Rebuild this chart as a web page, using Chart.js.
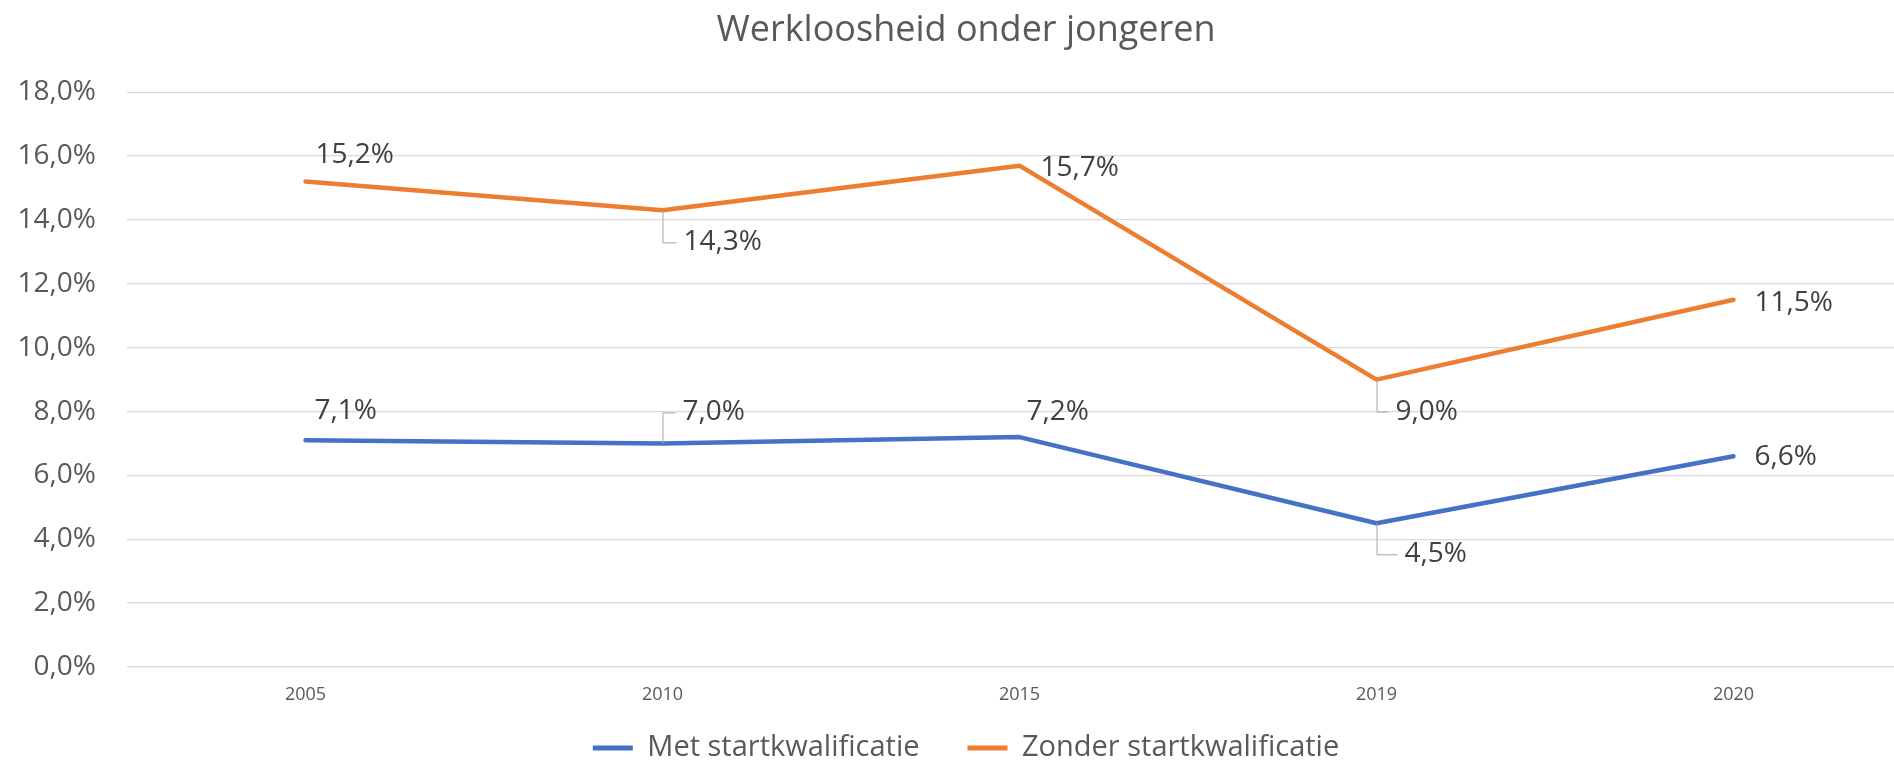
<!DOCTYPE html>
<html>
<head>
<meta charset="utf-8">
<script src="https://cdn.jsdelivr.net/npm/chart.js@4/dist/chart.umd.min.js"></script>
<style>
  html, body { margin: 0; padding: 0; background: #ffffff; overflow: hidden; }
  #wrap { width: 1932px; height: 761px; position: relative; }
</style>
</head>
<body>
<div id="wrap"><canvas id="c"></canvas></div>
<script>
// ---- data ----
const chartTitle = 'Werkloosheid onder jongeren';
const years = ['2005', '2010', '2015', '2019', '2020'];
const metLabel = 'Met startkwalificatie';
const metValues = [7.1, 7.0, 7.2, 4.5, 6.6];
const zonderLabel = 'Zonder startkwalificatie';
const zonderValues = [15.2, 14.3, 15.7, 9.0, 11.5];
const yTicks = [0, 2, 4, 6, 8, 10, 12, 14, 16, 18];

// ---- label placement (offset from point in px: dx to label left, dy to label centre, leader line) ----
const metLabelPlacement = [[9, -29, false], [20, -31, true], [7, -25, false], [28, 31, true], [21, 1, false]];
const zonderLabelPlacement = [[10, -27, false], [21, 32, true], [21, 2, false], [19, 32, true], [21, 3, false]];

const fmt = v => v.toFixed(1).replace('.', ',') + '%';
const FONT = "'Open Sans', 'Noto Sans', sans-serif";
const LEGEND_PAD = 48;
const LEGEND_FONT = 29;
const LEGEND_CENTER_Y = 748;

const dataLabelPlugin = {
  id: 'dataLabels',
  beforeDraw(chart) {
    // place the legend row at its vertical position
    const lg = chart.legend;
    if (lg) {
      lg.top = LEGEND_CENTER_Y - LEGEND_PAD - LEGEND_FONT / 2;
      lg.bottom = chart.height;
      lg.height = lg.bottom - lg.top;
    }
  },
  afterDatasetsDraw(chart) {
    const ctx = chart.ctx;
    const placements = [metLabelPlacement, zonderLabelPlacement];
    chart.data.datasets.forEach((ds, di) => {
      const meta = chart.getDatasetMeta(di);
      meta.data.forEach((pt, i) => {
        const [dx, dy, leader] = placements[di][i];
        const x = pt.x, y = pt.y;
        const lx = x + dx, ly = y + dy;
        ctx.save();
        if (leader) {
          ctx.strokeStyle = '#a6a6a6';
          ctx.lineWidth = 1;
          ctx.beginPath();
          ctx.moveTo(x + 0.5, y);
          ctx.lineTo(x + 0.5, ly + 0.5);
          ctx.lineTo(lx - 7, ly + 0.5);
          ctx.stroke();
        }
        ctx.font = '28px ' + FONT;
        ctx.fillStyle = '#404040';
        ctx.textAlign = 'left';
        ctx.textBaseline = 'middle';
        ctx.fillText(fmt(ds.data[i]), lx, ly);
        ctx.restore();
      });
    });
  }
};

new Chart(document.getElementById('c'), {
  type: 'line',
  data: {
    labels: years,
    datasets: [
      {
        label: metLabel,
        data: metValues,
        borderColor: '#4472C4',
        backgroundColor: '#4472C4',
        borderWidth: 4.5,
        borderCapStyle: 'round',
        borderJoinStyle: 'round',
        pointRadius: 0,
        pointHoverRadius: 0,
        tension: 0,
        fill: false
      },
      {
        label: zonderLabel,
        data: zonderValues,
        borderColor: '#ED7D31',
        backgroundColor: '#ED7D31',
        borderWidth: 4.5,
        borderCapStyle: 'round',
        borderJoinStyle: 'round',
        pointRadius: 0,
        pointHoverRadius: 0,
        tension: 0,
        fill: false
      }
    ]
  },
  options: {
    responsive: true,
    maintainAspectRatio: false,
    animation: false,
    events: [],
    layout: { padding: { left: 20, right: 20, top: 0, bottom: 0 } },
    plugins: {
      title: {
        display: true,
        text: chartTitle,
        color: '#595959',
        font: { family: FONT, size: 36, weight: 'normal', lineHeight: 1.2 },
        padding: { top: 9, bottom: 40 }
      },
      legend: {
        display: true,
        position: 'bottom',
        maxHeight: 54,
        labels: {
          color: '#595959',
          font: { family: FONT, size: LEGEND_FONT },
          boxWidth: 40,
          boxHeight: 5,
          padding: LEGEND_PAD,
          generateLabels(chart) {
            return chart.data.datasets.map((ds, i) => ({
              text: ds.label,
              fillStyle: ds.borderColor,
              strokeStyle: ds.borderColor,
              lineWidth: 0,
              hidden: false,
              datasetIndex: i,
              fontColor: '#595959'
            }));
          }
        }
      },
      tooltip: { enabled: false }
    },
    scales: {
      x: {
        type: 'category',
        offset: true,
        grid: { display: false, drawTicks: false },
        border: { display: false },
        ticks: {
          color: '#595959',
          font: { family: FONT, size: 18 },
          padding: 17,
          maxRotation: 0,
          autoSkip: false
        },
        afterFit(scale) { scale.height = 40; }
      },
      y: {
        min: yTicks[0],
        max: yTicks[yTicks.length - 1],
        afterBuildTicks(scale) { scale.ticks = yTicks.map(v => ({ value: v })); },
        grid: { color: '#d9d9d9', lineWidth: 1.3, drawTicks: false },
        border: { display: false },
        ticks: {
          color: '#595959',
          font: { family: FONT, size: 28 },
          padding: 31,
          callback: v => fmt(v)
        },
        afterFit(scale) { scale.width = 107; }
      }
    }
  },
  plugins: [dataLabelPlugin]
});
</script>
</body>
</html>
